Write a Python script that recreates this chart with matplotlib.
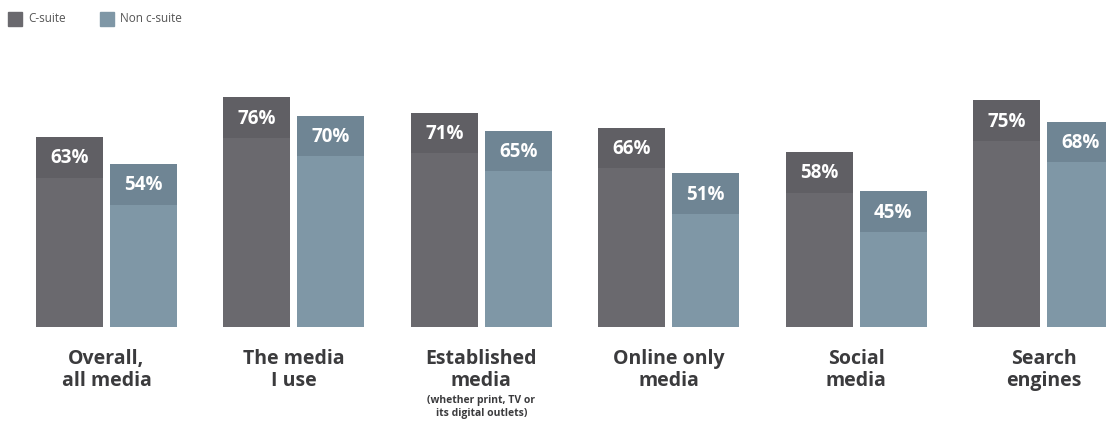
import matplotlib
matplotlib.use("Agg")
import matplotlib.pyplot as plt
from matplotlib.patches import Rectangle
import numpy as np

categories = ["Overall,\nall media", "The media\nI use", "Established\nmedia", "Online only\nmedia", "Social\nmedia", "Search\nengines"]
csuite = [63, 76, 71, 66, 58, 75]
noncsuite = [54, 70, 65, 51, 45, 68]
series_names = ["C-suite", "Non c-suite"]
subnote = "(whether print, TV or\nits digital outlets)"

plt.rcParams['font.family'] = ['Open Sans', 'DejaVu Sans']

W, H = 1106, 445
fig = plt.figure(figsize=(W/100, H/100), dpi=100)
ax = fig.add_axes([0, (H-327)/H, 1, (327-25)/H])
ax.set_xlim(-0.568, 5.333)
ax.set_ylim(0, 100)
ax.axis('off')

bw = 0.3575
off = 0.197
body_cols = ["#6a696e", "#7f97a6"]
top_cols = ["#605f64", "#6f8594"]
band = 13.5  # percent units for darker top band

x = np.arange(len(categories))
for vals, sgn, bc, tc in [(csuite, -1, body_cols[0], top_cols[0]), (noncsuite, 1, body_cols[1], top_cols[1])]:
    ax.bar(x + sgn*off, vals, width=bw, color=bc, edgecolor='none')
    tops = [band]*len(vals)
    ax.bar(x + sgn*off, tops, bottom=np.array(vals)-band, width=bw, color=tc, edgecolor='none')
    for xi, v in zip(x, vals):
        ax.annotate(f"{v}%", xy=(xi + sgn*off, v), xytext=(0, -15.5), textcoords='offset points',
                    ha='center', va='center', color='white', fontsize=13.5, fontweight='bold')

for xi, c in zip(x, categories):
    ax.annotate(c, xy=(xi, 0), xytext=(0, -16), textcoords='offset points', ha='center', va='top',
                fontsize=14, fontweight='bold', color='#3b3b3d', linespacing=1.15, annotation_clip=False)
ax.annotate(subnote, xy=(2, 0), xytext=(0, -49), textcoords='offset points', ha='center', va='top',
            fontsize=7.5, fontweight='bold', color='#3b3b3d', linespacing=1.25, annotation_clip=False)

# legend
for lx, col, name in [(8, body_cols[0], series_names[0]), (100, body_cols[1], series_names[1])]:
    fig.patches.append(Rectangle((lx/W, (H-26)/H), 14/W, 14/H, transform=fig.transFigure,
                                 color=col, figure=fig))
    fig.text((lx+20)/W, (H-19)/H, name, fontsize=8.5, color='#555555', va='center', ha='left')

fig.savefig("out.png", dpi=100, facecolor='white')
